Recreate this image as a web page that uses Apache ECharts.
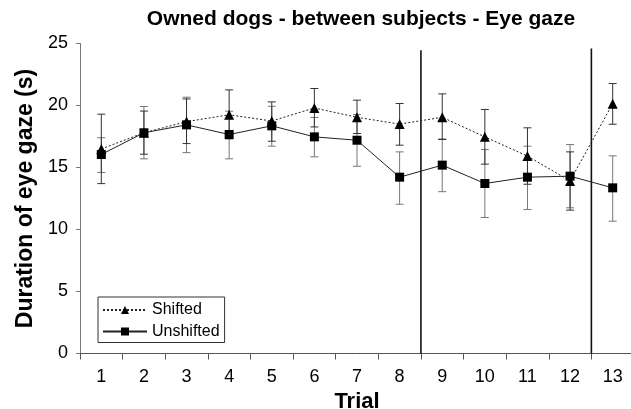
<!DOCTYPE html>
<html>
<head>
<meta charset="utf-8">
<script src="https://cdn.jsdelivr.net/npm/echarts@6/dist/echarts.min.js"></script>
<style>html,body{margin:0;padding:0;background:#fff}#c{width:631px;height:409px}</style>
</head>
<body>
<div id="c"></div>
<script>
var trials = ['1','2','3','4','5','6','7','8','9','10','11','12','13'];
var shifted = [16.5, 17.8, 18.7, 19.25, 18.75, 19.8, 19.05, 18.5, 19.05, 17.47, 15.92, 13.92, 20.15];
var shiftedHigh = [19.3, 19.55, 20.53, 21.26, 20.29, 21.37, 20.43, 20.16, 20.94, 19.68, 18.2, 16.26, 21.77];
var shiftedLow = [13.7, 16.07, 16.93, 17.31, 17.12, 18.27, 17.74, 16.8, 17.26, 15.27, 13.65, 11.56, 18.49];
var unshifted = [16.05, 17.8, 18.44, 17.66, 18.36, 17.47, 17.2, 14.22, 15.19, 13.71, 14.22, 14.3, 13.36];
var unshiftedHigh = [17.4, 19.92, 20.67, 19.54, 19.94, 19.03, 19.27, 16.26, 17.3, 16.45, 16.72, 16.85, 15.94];
var unshiftedLow = [14.6, 15.7, 16.2, 15.7, 16.72, 15.86, 15.1, 12.04, 13.05, 10.97, 11.61, 11.75, 10.67];
var separatorsAfter = ['8', '12'];
var separatorTop = [24.45, 24.6];

function errData(lo, hi) {
  return trials.map(function (t, i) { return [i, lo[i], hi[i]]; });
}
function errRender(color) {
  return function (params, api) {
    var x = api.value(0);
    var p1 = api.coord([x, api.value(1)]);
    var p2 = api.coord([x, api.value(2)]);
    var w = 4;
    var st = { stroke: color, lineWidth: 1 };
    return {
      type: 'group',
      children: [
        { type: 'line', shape: { x1: p1[0], y1: p1[1], x2: p2[0], y2: p2[1] }, style: st },
        { type: 'line', shape: { x1: p1[0] - w, y1: p1[1], x2: p1[0] + w, y2: p1[1] }, style: st },
        { type: 'line', shape: { x1: p2[0] - w, y1: p2[1], x2: p2[0] + w, y2: p2[1] }, style: st }
      ]
    };
  };
}
var sepData = separatorsAfter.map(function (t, i) { return [trials.indexOf(t), separatorTop[i]]; });

var FONT = 'Liberation Sans, Arial, sans-serif';
var chart = echarts.init(document.getElementById('c'), null, { renderer: 'canvas' });
chart.setOption({
  animation: false,
  backgroundColor: '#fff',
  title: {
    text: 'Owned dogs - between subjects - Eye gaze',
    left: 356, top: 4, textAlign: 'center',
    textStyle: { fontFamily: FONT, fontWeight: 'bold', fontSize: 21, color: '#000' }
  },
  legend: {
    orient: 'vertical', left: 98, top: 297,
    borderColor: '#333', borderWidth: 1, borderRadius: 0,
    padding: [5, 5, 3, 4], itemGap: 5.5, itemWidth: 44, itemHeight: 10,
    textStyle: { fontFamily: FONT, fontSize: 16, color: '#000' },
    data: ['Shifted', 'Unshifted']
  },
  grid: { left: 80, top: 43.5, width: 554, height: 310, containLabel: false, outerBoundsMode: 'none' },
  xAxis: {
    type: 'category', data: trials, boundaryGap: true,
    name: 'Trial', nameLocation: 'middle', nameGap: 36,
    nameTextStyle: { fontFamily: FONT, fontWeight: 'bold', fontSize: 22, color: '#000' },
    axisLine: { lineStyle: { color: '#555', width: 1 } },
    axisTick: { show: true, length: 6, alignWithLabel: false, lineStyle: { color: '#555' } },
    axisLabel: { margin: 15, fontFamily: FONT, fontSize: 18, color: '#000', interval: 0 },
    splitLine: { show: false }
  },
  yAxis: {
    type: 'value', min: 0, max: 25, interval: 5,
    name: 'Duration of eye gaze (s)', nameLocation: 'middle', nameGap: 41,
    nameTextStyle: { fontFamily: FONT, fontWeight: 'bold', fontSize: 23, color: '#000' },
    axisLine: { show: true, lineStyle: { color: '#777', width: 1 } },
    axisTick: { show: true, length: 4, lineStyle: { color: '#777' } },
    axisLabel: { margin: 12, fontFamily: FONT, fontSize: 18, color: '#000' },
    splitLine: { show: false }
  },
  series: [
    { type: 'custom', name: 'sepLines', silent: true, z: 1,
      data: sepData,
      renderItem: function (params, api) {
        var idx = api.value(0);
        var half = api.size([1, 0])[0] / 2;
        var top = api.coord([idx, api.value(1)]);
        var bot = api.coord([idx, 0]);
        return { type: 'line', shape: { x1: top[0] + half, y1: top[1], x2: bot[0] + half, y2: bot[1] },
          style: { stroke: '#111', lineWidth: 1.6 } };
      } },
    { type: 'custom', name: 'errU', silent: true, z: 2, data: errData(unshiftedLow, unshiftedHigh), renderItem: errRender('#777') },
    { type: 'custom', name: 'errS', silent: true, z: 2, data: errData(shiftedLow, shiftedHigh), renderItem: errRender('#333') },
    { type: 'line', name: 'Shifted', data: shifted, z: 3,
      symbol: 'triangle', symbolSize: 10,
      lineStyle: { color: '#222', width: 1, type: [2, 2] },
      itemStyle: { color: '#000' } },
    { type: 'line', name: 'Unshifted', data: unshifted, z: 4,
      symbol: 'rect', symbolSize: 9,
      lineStyle: { color: '#222', width: 1, type: 'solid' },
      itemStyle: { color: '#000' } }
  ]
});
</script>
</body>
</html>
